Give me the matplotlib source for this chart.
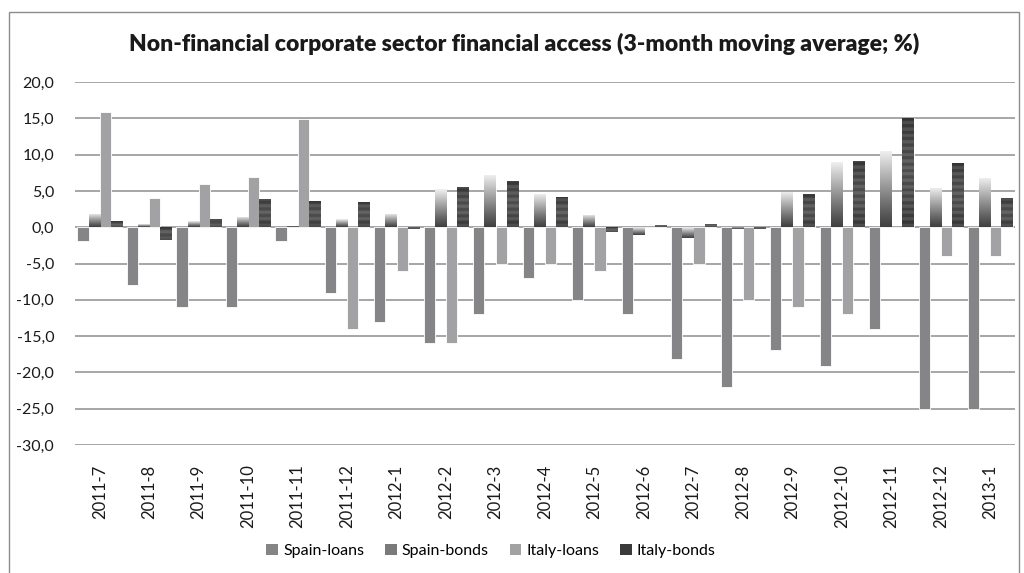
import numpy as np
import matplotlib
matplotlib.use("Agg")
import matplotlib.pyplot as plt
from matplotlib.patches import Patch, Rectangle

plt.rcParams['font.family'] = ['Lato', 'DejaVu Sans']

categories = ["2011-7", "2011-8", "2011-9", "2011-10", "2011-11", "2011-12",
              "2012-1", "2012-2", "2012-3", "2012-4", "2012-5", "2012-6",
              "2012-7", "2012-8", "2012-9", "2012-10", "2012-11", "2012-12", "2013-1"]
spain_loans = [-1.9, -8.0, -11.0, -11.0, -1.9, -9.0, -13.0, -16.0, -12.0, -7.0,
               -10.0, -12.0, -18.1, -22.0, -16.9, -19.1, -14.0, -25.0, -25.0]
spain_bonds = [1.8, 0.4, 0.8, 1.4, 0.2, 1.1, 1.8, 5.2, 7.2, 4.6,
               1.7, -1.1, -1.5, -0.3, 4.9, 9.0, 10.5, 5.4, 6.8]
italy_loans = [15.9, 4.0, 6.0, 6.9, 14.9, -14.0, -6.1, -16.0, -5.0, -5.0,
               -6.1, 0.0, -5.0, -10.0, -11.0, -12.0, 0.0, -3.9, -3.9]
italy_bonds = [0.8, -1.7, 1.1, 3.9, 3.6, 3.5, -0.2, 5.5, 6.4, 4.1,
               -0.6, 0.3, 0.4, -0.2, 4.6, 9.1, 15.1, 8.9, 4.0]
series_names = ["Spain-loans", "Spain-bonds", "Italy-loans", "Italy-bonds"]
yticks = [20, 15, 10, 5, 0, -5, -10, -15, -20, -25, -30]

W, H = 1024, 573
fig = plt.figure(figsize=(W / 100, H / 100), dpi=100)
fig.patch.set_facecolor("white")
ax = fig.add_axes([75 / W, 1 - 445 / H, (1015 - 75) / W, (445 - 82) / H])

# outer chart border
fig.patches.append(Rectangle((9 / W, -0.05), (1019 - 9) / W, 1 - 12 / H + 0.05,
                             transform=fig.transFigure, fill=False,
                             edgecolor="#8c8c8c", linewidth=1.0, zorder=0))

x = np.arange(len(categories))
bw = 0.225
offsets = [-1.5 * bw, -0.5 * bw, 0.5 * bw, 1.5 * bw]
data = [spain_loans, spain_bonds, italy_loans, italy_bonds]
solid_colors = ["#858588", None, "#a2a2a5", None]

containers = []
for i, (vals, off) in enumerate(zip(data, offsets)):
    fc = solid_colors[i] if solid_colors[i] else "none"
    c = ax.bar(x + off, vals, width=bw, color=fc, edgecolor="white",
               linewidth=0.6, zorder=3)
    containers.append(c)


def gradient_fill(container, kind):
    for p in container.patches:
        x0, y0 = p.get_x(), p.get_y()
        w, h = p.get_width(), p.get_height()
        if h == 0:
            continue
        ylo, yhi = min(y0, y0 + h), max(y0, y0 + h)
        n = 200
        t = np.linspace(0, 1, n)  # 0 = bottom, 1 = top
        if kind == "spain":
            v = 0.25 + 0.70 * t ** 1.1
        else:
            px = abs(h) * 7.24
            nstr = max(1, px / 3.2)
            stripes = 0.5 + 0.5 * np.sign(np.sin(2 * np.pi * nstr * t / 2))
            base = 0.20 + 0.10 * np.sin(np.pi * t)
            v = base + 0.09 * stripes
        img = np.repeat(v[:, None], 2, axis=1)
        rgb = np.dstack([img, img, img])
        im = ax.imshow(rgb, extent=[x0, x0 + w, ylo, yhi], origin="lower",
                       aspect="auto", zorder=3, interpolation="bilinear")
        im.set_clip_path(p)


gradient_fill(containers[1], "spain")
gradient_fill(containers[3], "italy")

ax.set_xlim(-0.5, len(categories) - 0.5)
ax.set_ylim(-30, 20)
ax.set_yticks(yticks)
ax.set_yticklabels([f"{v:.1f}".replace(".", ",") for v in yticks], fontsize=11.5,
                   color="#1a1a1a")
ax.set_xticks(x)
ax.set_xticklabels(categories, rotation=90, fontsize=12, color="#1a1a1a")
ax.tick_params(axis="both", length=0)
ax.tick_params(axis="y", pad=15)
ax.tick_params(axis="x", pad=14)
ax.grid(axis="y", color="#a6a6a6", linewidth=1.4, zorder=0)
ax.set_axisbelow(True)
for s in ax.spines.values():
    s.set_visible(False)

fig.text(524 / W, 1 - 44 / H,
         "Non-financial corporate sector financial access (3-month moving average; %)",
         ha="center", va="center", fontsize=16.5, fontweight="heavy", color="#1a1a1a")

handles = [Patch(facecolor="#858588"), Patch(facecolor="#7a7a7a"),
           Patch(facecolor="#a2a2a5"), Patch(facecolor="#3a3a3a")]
fig.legend(handles, series_names, loc="center", bbox_to_anchor=(491 / W, 1 - 551 / H),
           ncol=4, frameon=False, fontsize=11.5, handlelength=0.75, handleheight=0.75,
           handletextpad=0.3, columnspacing=1.3)

fig.savefig("out.png", dpi=100, facecolor="white")
